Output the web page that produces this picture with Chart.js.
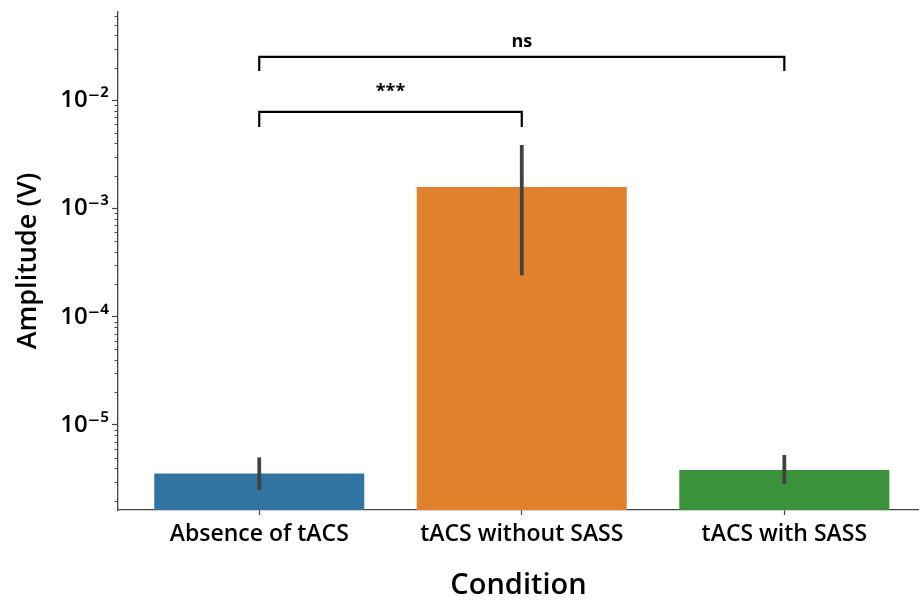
<!DOCTYPE html>
<html><head><meta charset="utf-8">
<style>html,body{margin:0;padding:0;background:#fff;}</style>
<script src="https://cdn.jsdelivr.net/npm/chart.js@4/dist/chart.umd.min.js"></script>
</head><body>
<canvas id="c" width="919" height="603"></canvas>
<script>
// ---- data ----
const categories = ['Absence of tACS', 'tACS without SASS', 'tACS with SASS'];
const meanAmplitude = [3.57e-6, 1.58e-3, 3.84e-6];
const ciLow  = [2.51e-6, 2.42e-4, 2.85e-6];
const ciHigh = [5.02e-6, 3.85e-3, 5.28e-6];
const yMajorTicks = [1e-5, 1e-4, 1e-3, 1e-2];
const yMinorMultipliers = [2, 3, 4, 5, 6, 7, 8, 9];
const yRange = [1.64e-6, 0.0653];
const xRange = [-0.538, 2.513];
// significance annotations: pair of categories, label, bracket level and leg end (data units)
const sigPairs = [[0, 2], [0, 1]];
const sigLabels = ['ns', '***'];
const sigLevel = [0.0251, 7.8e-3];
const sigLegEnd = [0.0186, 5.67e-3];
const barColors = ['#3274a1', '#e1812c', '#3a923a'];

const FONT = "'Open Sans', 'DejaVu Sans', sans-serif";
const SUP = {'-': '\u207B', '0': '\u2070', '1': '\u00B9', '2': '\u00B2', '3': '\u00B3', '4': '\u2074', '5': '\u2075', '6': '\u2076', '7': '\u2077', '8': '\u2078', '9': '\u2079'};
function powLabel(v) {
  const e = Math.round(Math.log10(v));
  return '10' + String(e).split('').map(ch => SUP[ch]).join('');
}

const overlay = {
  id: 'overlay',
  afterDatasetsDraw(chart) {
    const {ctx, scales: {x, y}} = chart;
    ctx.save();
    // error bars
    ctx.strokeStyle = '#424242';
    ctx.lineWidth = 3.8;
    ctx.lineCap = 'butt';
    categories.forEach((c, i) => {
      const px = x.getPixelForValue(i);
      ctx.beginPath();
      ctx.moveTo(px, y.getPixelForValue(ciLow[i]));
      ctx.lineTo(px, y.getPixelForValue(ciHigh[i]));
      ctx.stroke();
    });
    // significance brackets
    ctx.strokeStyle = '#000';
    ctx.lineWidth = 2.2;
    ctx.lineJoin = 'miter';
    ctx.fillStyle = '#000';
    ctx.font = "700 18px " + FONT;
    ctx.textAlign = 'center';
    ctx.textBaseline = 'alphabetic';
    sigPairs.forEach((p, k) => {
      const x1 = x.getPixelForValue(p[0]);
      const x2 = x.getPixelForValue(p[1]);
      const yl = y.getPixelForValue(sigLevel[k]);
      const ye = y.getPixelForValue(sigLegEnd[k]);
      ctx.beginPath();
      ctx.moveTo(x1, ye);
      ctx.lineTo(x1, yl);
      ctx.lineTo(x2, yl);
      ctx.lineTo(x2, ye);
      ctx.stroke();
      ctx.fillText(sigLabels[k], (x1 + x2) / 2, yl - (sigLabels[k] === '***' ? 15 : 10));
    });
    ctx.restore();
  },
  afterDraw(chart) {
    const {ctx, scales: {y}} = chart;
    ctx.save();
    ctx.strokeStyle = '#444';
    ctx.lineWidth = 1;
    const left = y.right;
    const lo = Math.floor(Math.log10(yRange[0]));
    const hi = Math.ceil(Math.log10(yRange[1]));
    for (let e = lo; e <= hi; e++) {
      yMinorMultipliers.forEach(m => {
        const v = m * Math.pow(10, e);
        if (v < yRange[0] || v > yRange[1]) return;
        const py = Math.round(y.getPixelForValue(v)) + 0.5;
        ctx.beginPath();
        ctx.moveTo(left, py);
        ctx.lineTo(left - 3.5, py);
        ctx.stroke();
      });
    }
    ctx.restore();
  }
};

new Chart(document.getElementById('c'), {
  type: 'bar',
  data: {
    datasets: [{
      data: categories.map((c, i) => ({x: i, y: meanAmplitude[i]})),
      backgroundColor: barColors,
      borderWidth: 0,
      categoryPercentage: 1.0,
      barPercentage: 0.8
    }]
  },
  options: {
    responsive: false,
    animation: false,
    events: [],
    layout: {padding: {top: 12, right: 0, left: 0, bottom: 0}},
    plugins: {legend: {display: false}, tooltip: {enabled: false}},
    scales: {
      x: {
        type: 'linear',
        offset: false,
        min: xRange[0],
        max: xRange[1],
        afterBuildTicks(scale) { scale.ticks = categories.map((c, i) => ({value: i})); },
        afterFit(scale) { scale.height = 93; scale.paddingLeft = 0; scale.paddingRight = 0; },
        ticks: {
          callback: v => categories[v],
          color: '#000',
          font: {family: FONT, size: 23, weight: '600'},
          padding: 6,
          maxRotation: 0,
          autoSkip: false
        },
        grid: {display: true, offset: false, drawOnChartArea: false, drawTicks: true, tickLength: 5, tickColor: '#444', tickWidth: 1.2},
        border: {display: true, color: '#444', width: 1.3},
        title: {display: true, text: 'Condition', color: '#000', font: {family: FONT, size: 29, weight: '600'}, padding: {top: 0, bottom: 0}}
      },
      y: {
        type: 'logarithmic',
        min: yRange[0],
        max: yRange[1],
        afterBuildTicks(scale) { scale.ticks = yMajorTicks.map(v => ({value: v, major: true})); },
        afterFit(scale) { scale.width = 118; scale.paddingTop = 0; scale.paddingBottom = 0; },
        ticks: {
          callback: v => powLabel(v),
          color: '#000',
          font: {family: FONT, size: 24, weight: '600'},
          padding: 3,
          autoSkip: false
        },
        grid: {display: true, drawOnChartArea: false, drawTicks: true, tickLength: 6, tickColor: '#444', tickWidth: 1.2},
        border: {display: true, color: '#444', width: 1.3},
        title: {display: true, text: 'Amplitude (V)', color: '#000', font: {family: FONT, size: 27, weight: '600'}, padding: {top: 12, bottom: 0}}
      }
    }
  },
  plugins: [overlay]
});
</script>
</body></html>
